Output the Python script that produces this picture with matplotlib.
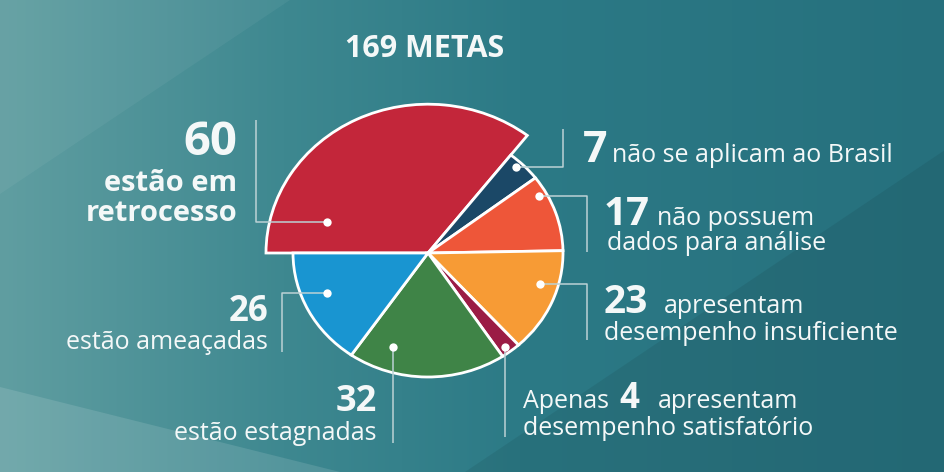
import numpy as np
import matplotlib.pyplot as plt
from matplotlib.patches import Polygon

plt.rcParams['font.family'] = ['Open Sans', 'DejaVu Sans']

W, H = 945, 472

# ---- data ----
title = "169 METAS"
values = [60, 7, 17, 23, 4, 32, 26]
colors = ['#c3263a', '#1b4867', '#ee5639', '#f79b35', '#9b1c45', '#3f8447', '#1995d1']
numbers = [str(v) for v in values]
descr = [
    ["estão em", "retrocesso"],
    ["não se aplicam ao Brasil"],
    ["não possuem", "dados para análise"],
    ["apresentam", "desempenho insuficiente"],
    ["apresentam", "desempenho satisfatório"],
    ["estão estagnadas"],
    ["estão ameaçadas"],
]

# pie geometry in pixels (slightly elliptical)
cx, cy = 428, 253
rx, ry = 135, 124
red_scale = 1.2

fig = plt.figure(figsize=(W / 100, H / 100), dpi=100)

# ---- background ----
bg = fig.add_axes([0, 0, 1, 1])
stops = [0.0, 0.3, 0.55, 1.0]
rgb = np.array([[96, 158, 161], [62, 136, 144], [44, 122, 134], [38, 112, 125]]) / 255
xs = np.linspace(0, 1, W)
row = np.stack([np.interp(xs, stops, rgb[:, i]) for i in range(3)], axis=-1)
img = np.repeat(row[None, :, :], H, axis=0)
bg.imshow(img, extent=(0, W, H, 0), aspect='auto')
bg.add_patch(Polygon([(0, 0), (290, 0), (0, 194)], closed=True, color='white', alpha=0.05, lw=0))
bg.add_patch(Polygon([(0, 387), (0, H), (340, H)], closed=True, color='white', alpha=0.12, lw=0))
bg.add_patch(Polygon([(W, 150), (W, H), (465, H)], closed=True, color='black', alpha=0.07, lw=0))
bg.set_xlim(0, W)
bg.set_ylim(H, 0)
bg.axis('off')

# ---- pie ----
pax = fig.add_axes([0, 0, 1, 1])
wedges, _ = pax.pie(values, colors=colors, startangle=180, counterclock=False,
                    radius=1, wedgeprops=dict(edgecolor='white', linewidth=2))
wedges[0].set_radius(red_scale)
pax.set_aspect('auto')
pax.set_xlim(-cx / rx, (W - cx) / rx)
pax.set_ylim(-(H - cy) / ry, cy / ry)
pax.axis('off')

# ---- leader lines, dots and labels (pixel coords) ----
ax = fig.add_axes([0, 0, 1, 1])
ax.set_xlim(0, W)
ax.set_ylim(H, 0)
ax.axis('off')

leaders = [
    [(327, 222), (256, 222), (256, 120)],
    [(516, 167), (563, 167), (563, 129)],
    [(539, 196), (587, 196), (587, 252)],
    [(540, 284), (587, 284), (587, 340)],
    [(505, 347), (505, 437)],
    [(393, 347), (393, 443)],
    [(327, 293), (282, 293), (282, 352)],
]
for pts in leaders:
    px, py = zip(*pts)
    ax.plot(px, py, color='#bcd2d5', lw=1.1, solid_capstyle='butt')
    ax.plot(px[0], py[0], 'o', color='white', ms=6, mec='none')

white = '#f4f8f8'
ax.text(425, 57, title, color=white, fontsize=22, fontweight='bold', ha='center', va='baseline')

# 60 - retrocesso
ax.text(237, 155, numbers[0], color=white, fontsize=34, fontweight='bold', ha='right', va='baseline')
ax.text(237, 191, descr[0][0], color=white, fontsize=21, fontweight='bold', ha='right', va='baseline')
ax.text(237, 221, descr[0][1], color=white, fontsize=21, fontweight='bold', ha='right', va='baseline')

# 7
ax.text(583, 162, numbers[1], color=white, fontsize=31, fontweight='bold', ha='left', va='baseline')
ax.text(612, 162, descr[1][0], color=white, fontsize=18, ha='left', va='baseline')

# 17
ax.text(604, 225, numbers[2], color=white, fontsize=29, fontweight='bold', ha='left', va='baseline')
ax.text(657, 225, descr[2][0], color=white, fontsize=18, ha='left', va='baseline')
ax.text(607, 250, descr[2][1], color=white, fontsize=18, ha='left', va='baseline')

# 23
ax.text(604, 313, numbers[3], color=white, fontsize=28, fontweight='bold', ha='left', va='baseline')
ax.text(664, 313, descr[3][0], color=white, fontsize=18, ha='left', va='baseline')
ax.text(604, 340, descr[3][1], color=white, fontsize=18, ha='left', va='baseline')

# 4
ax.text(523, 408, "Apenas", color=white, fontsize=18, ha='left', va='baseline')
ax.text(619, 408, numbers[4], color=white, fontsize=25, fontweight='bold', ha='left', va='baseline')
ax.text(658, 408, descr[4][0], color=white, fontsize=18, ha='left', va='baseline')
ax.text(523, 435, descr[4][1], color=white, fontsize=18, ha='left', va='baseline')

# 32
ax.text(377, 411, numbers[5], color=white, fontsize=26, fontweight='bold', ha='right', va='baseline')
ax.text(377, 440, descr[5][0], color=white, fontsize=18, ha='right', va='baseline')

# 26
ax.text(268, 321, numbers[6], color=white, fontsize=25, fontweight='bold', ha='right', va='baseline')
ax.text(268, 349, descr[6][0], color=white, fontsize=18, ha='right', va='baseline')

fig.savefig('out.png', dpi=100)
